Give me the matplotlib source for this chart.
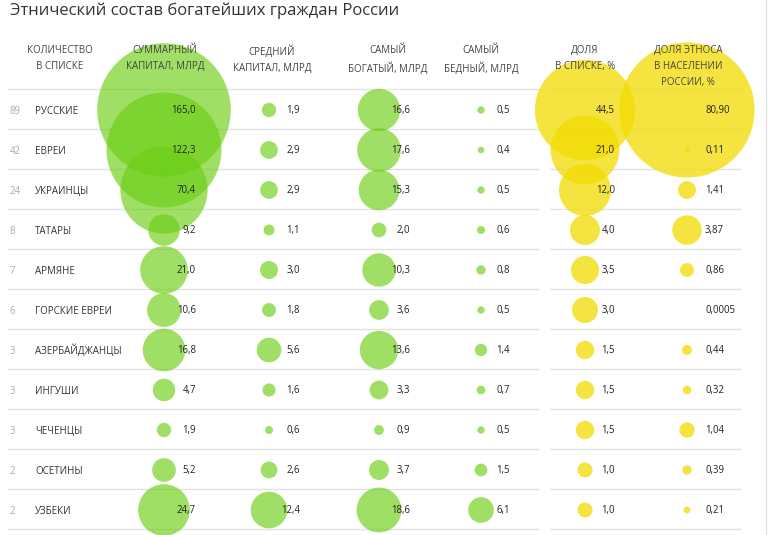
import matplotlib.pyplot as plt

plt.rcParams['font.family'] = ['Open Sans', 'DejaVu Sans']

# данные
counts = [89, 42, 24, 8, 7, 6, 3, 3, 3, 2, 2]
names = ['РУССКИЕ', 'ЕВРЕИ', 'УКРАИНЦЫ', 'ТАТАРЫ', 'АРМЯНЕ', 'ГОРСКИЕ ЕВРЕИ',
         'АЗЕРБАЙДЖАНЦЫ', 'ИНГУШИ', 'ЧЕЧЕНЦЫ', 'ОСЕТИНЫ', 'УЗБЕКИ']
total_cap = [165.0, 122.3, 70.4, 9.2, 21.0, 10.6, 16.8, 4.7, 1.9, 5.2, 24.7]
mean_cap = [1.9, 2.9, 2.9, 1.1, 3.0, 1.8, 5.6, 1.6, 0.6, 2.6, 12.4]
richest = [16.6, 17.6, 15.3, 2.0, 10.3, 3.6, 13.6, 3.3, 0.9, 3.7, 18.6]
poorest = [0.5, 0.4, 0.5, 0.6, 0.8, 0.5, 1.4, 0.7, 0.5, 1.5, 6.1]
share_list = [44.5, 21.0, 12.0, 4.0, 3.5, 3.0, 1.5, 1.5, 1.5, 1.0, 1.0]
share_pop = [80.90, 0.11, 1.41, 3.87, 0.86, 0.0005, 0.44, 0.32, 1.04, 0.39, 0.21]
share_pop_labels = ['80,90', '0,11', '1,41', '3,87', '0,86', '0,0005',
                    '0,44', '0,32', '1,04', '0,39', '0,21']

headers = ['КОЛИЧЕСТВО\nВ СПИСКЕ', 'СУММАРНЫЙ\nКАПИТАЛ, МЛРД', 'СРЕДНИЙ\nКАПИТАЛ, МЛРД',
           'САМЫЙ\nБОГАТЫЙ, МЛРД', 'САМЫЙ\nБЕДНЫЙ, МЛРД', 'ДОЛЯ\nВ СПИСКЕ, %',
           'ДОЛЯ ЭТНОСА\nВ НАСЕЛЕНИИ\nРОССИИ, %']

GREEN = '#6ccf14'
YELLOW = '#f2dc00'


def fmt(v):
    return f"{v:.1f}".replace('.', ',')


fig = plt.figure(figsize=(7.7, 5.35), dpi=100)
ax = fig.add_axes([0, 0, 1, 1])
ax.set_xlim(0, 770)
ax.set_ylim(535, 0)
ax.axis('off')

rows = [110 + 40 * i for i in range(len(names))]

# линии таблицы
for i in range(len(names) + 1):
    y = 89 + 40 * i
    ax.plot([8, 538], [y, y], color='#e2e2e2', lw=1, zorder=0)
    ax.plot([550, 740], [y, y], color='#e2e2e2', lw=1, zorder=0)
ax.plot([766, 766], [0, 535], color='#e2e2e2', lw=1, zorder=0)

# заголовок
ax.text(10, 11, 'Этнический состав богатейших граждан России', fontsize=12,
        color='#333333', ha='left', va='center')

# шапка столбцов
head_x = [60, 165, 272, 388, 481, 585, 688]
for hx, h in zip(head_x, headers):
    ax.text(hx, 45, h, fontsize=7, color='#444444', ha='center', va='top',
            linespacing=1.65)

# зеленые столбцы (площадь ~ значению)
green_cols = [(total_cap, 164, 196), (mean_cap, 269, 300),
              (richest, 379, 410), (poorest, 481, 510)]
for vals, cx, tx in green_cols:
    ax.scatter([cx] * len(vals), rows, s=[56 * v for v in vals], color=GREEN,
               alpha=0.65, edgecolors='none', zorder=2)
    for y, v in zip(rows, vals):
        ax.text(tx, y + 1, fmt(v), fontsize=6.9, color='#222222', ha='right',
                va='center', zorder=5)

# желтые столбцы
ax.scatter([585] * len(share_list), rows, s=[117 * v for v in share_list],
           color=YELLOW, alpha=0.75, edgecolors='none', zorder=2)
for y, v in zip(rows, share_list):
    ax.text(615, y + 1, fmt(v), fontsize=6.9, color='#222222', ha='right',
            va='center', zorder=5)

ax.scatter([687] * len(share_pop), rows, s=[117 * v for v in share_pop],
           color=YELLOW, alpha=0.75, edgecolors='none', zorder=2)
for y, lab in zip(rows, share_pop_labels):
    ax.text(705, y + 1, lab, fontsize=6.9, color='#222222', ha='left',
            va='center', zorder=5)

# количество и названия
for y, c, n in zip(rows, counts, names):
    ax.text(10, y + 1, str(c), fontsize=6.9, color='#aaaaaa', ha='left', va='center')
    ax.text(35, y + 1, n, fontsize=7, color='#333333', ha='left', va='center')

fig.savefig('out.png', dpi=100)
